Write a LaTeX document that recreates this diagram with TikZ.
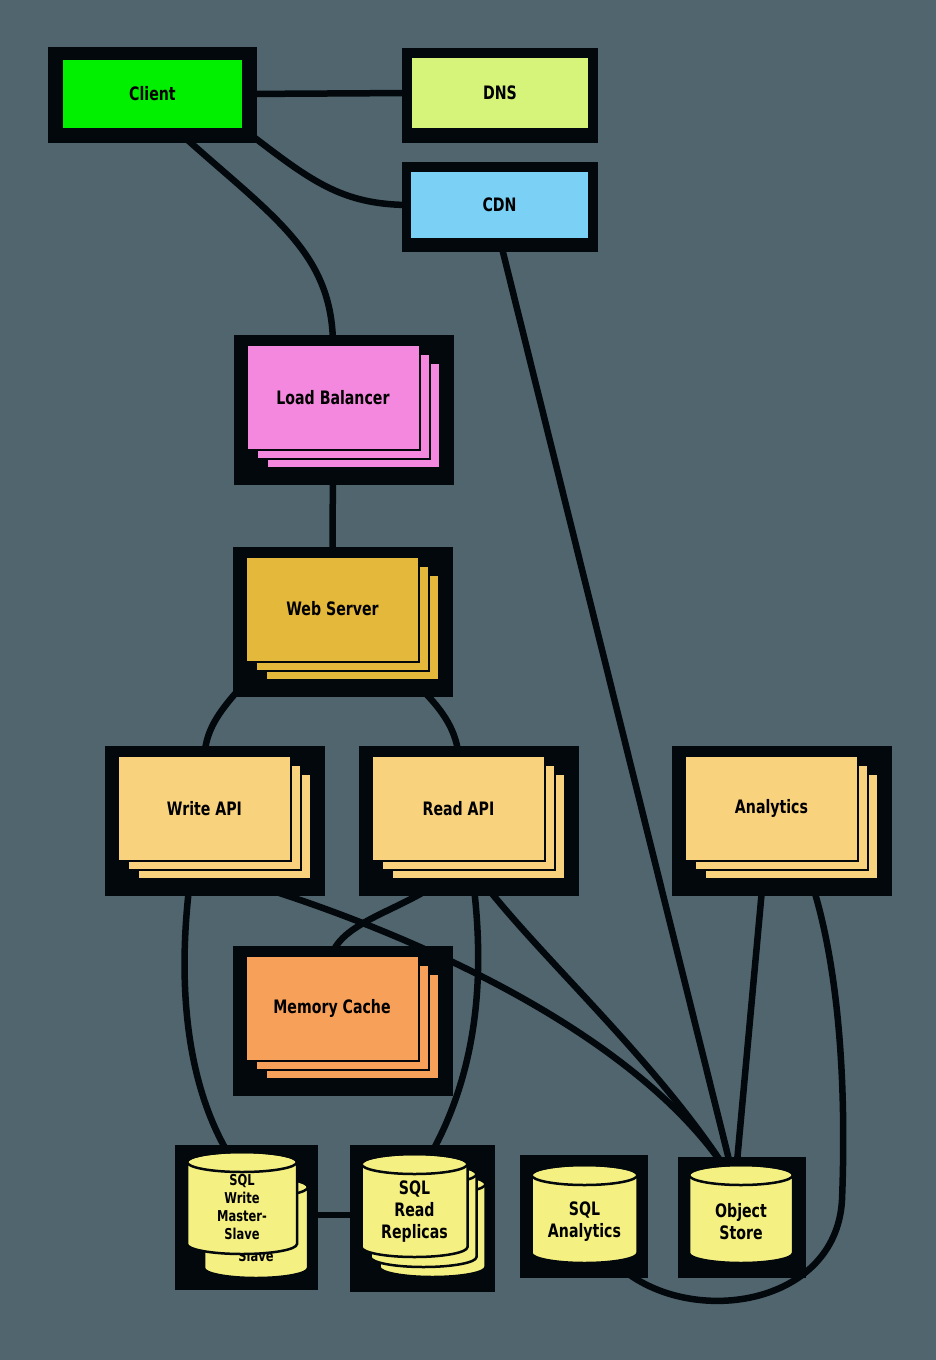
\documentclass[tikz,border=0pt]{standalone}
\usepackage{fontspec}
\newfontfamily\labelfont[FakeStretch=0.85]{DejaVu Sans Condensed Bold}

\definecolor{slate}{RGB}{80,101,110}
\definecolor{halocol}{RGB}{2,8,12}
\definecolor{clientcol}{RGB}{0,240,0}
\definecolor{dnscol}{RGB}{214,244,122}
\definecolor{cdncol}{RGB}{122,208,245}
\definecolor{lbcol}{RGB}{243,136,222}
\definecolor{webcol}{RGB}{228,184,58}
\definecolor{apicol}{RGB}{248,210,125}
\definecolor{mccol}{RGB}{247,160,90}
\definecolor{drumcol}{RGB}{245,240,130}

\pgfdeclarelayer{bg}
\pgfdeclarelayer{edges}
\pgfsetlayers{bg,edges,main}

\tikzset{
  halo/.style={fill=halocol},
  card/.style={draw=halocol, line width=2pt},
  cardfront/.style={draw=halocol, line width=2pt, minimum width=173pt,
    minimum height=105pt, inner sep=0pt, text=black,
    font=\labelfont\fontsize{18.5}{22}\selectfont},
  flat/.style={inner sep=0pt, text=black,
    font=\labelfont\fontsize{18.5}{22}\selectfont},
  drum/.style={fill=drumcol, draw=halocol, line width=2.5pt},
  drumtext/.style={align=center, inner sep=0pt, text=black,
    font=\labelfont\fontsize{18.5}{22}\selectfont},
  drumsmall/.style={drumtext, font=\labelfont\fontsize{15}{18}\selectfont},
  wire/.style={draw=halocol, line width=6.5pt, line cap=round},
}

% a stack of three cards on a black backing; #1 name, #2,#3 centre, #4 colour, #5 label
\newcommand\stackcard[5]{%
  \fill[halo] ({#2-99.5},{#3-62.5}) rectangle ({#2+120.5},{#3+87.5});
  \filldraw[card,fill=#4] ({#2-66.5},{#3-34.5}) rectangle ({#2+106.5},{#3+70.5});
  \filldraw[card,fill=#4] ({#2-76.5},{#3-43.5}) rectangle ({#2+96.5},{#3+61.5});
  \node[cardfront,fill=#4] (#1) at (#2,#3) {#5};
}

% a database drum; #1 centre x, #2 half width, #3 top, #4 bottom
\newcommand\drum[4]{%
  \filldraw[drum] ({#1-#2},{#3+10}) -- ({#1-#2},{#4-10})
    arc[start angle=180,end angle=360,x radius=#2pt,y radius=10pt]
    -- ({#1+#2},{#3+10})
    arc[start angle=0,end angle=180,x radius=#2pt,y radius=10pt] -- cycle;
  \draw[drum,fill=none] (#1,{#3+10}) ellipse[x radius=#2pt,y radius=10pt];
}

\begin{document}
\begin{tikzpicture}[x=1pt,y=-1pt]
\begin{pgfonlayer}{bg}
  \fill[slate] (0,0) rectangle (936,1360);
\end{pgfonlayer}
\useasboundingbox (0,0) rectangle (936,1360);

% top row
\fill[halo] (48,47) rectangle (257,143);
\node[flat, fill=clientcol, minimum width=179pt, minimum height=68pt] (client) at (152.5,94) {Client};
\fill[halo] (402,48) rectangle (598,143);
\node[flat, fill=dnscol, minimum width=176pt, minimum height=70pt] (dns) at (500,93) {DNS};
\fill[halo] (402,162) rectangle (598,252);
\node[flat, fill=cdncol, minimum width=177pt, minimum height=66pt] (cdn) at (499.5,205) {CDN};

% server tiers
\stackcard{lb}{333}{397.5}{lbcol}{Load Balancer}
\stackcard{web}{332.5}{609}{webcol}{Web Server}
\stackcard{wapi}{204.5}{808.5}{apicol}{Write API}
\stackcard{rapi}{458.5}{808.5}{apicol}{Read API}
\stackcard{ana}{771.5}{808.5}{apicol}{Analytics}
\stackcard{mc}{332}{1008}{mccol}{Memory Cache}

% storage
\fill[halo] (175,1145) rectangle (318,1290);
\drum{256}{52}{1177}{1278}
\node[drumsmall] (sqlwb) at (256,1256) {Slave};
\drum{242}{55}{1152}{1254}
\node[drumsmall, minimum width=110pt, minimum height=82pt] (sqlw) at (242,1207) {SQL\\Write\\Master-\\Slave};

\fill[halo] (350,1145) rectangle (495,1292);
\drum{432.5}{53}{1174}{1277}
\drum{423.5}{53}{1164}{1267}
\drum{414.5}{53}{1154}{1257}
\node[drumtext, minimum width=106pt, minimum height=80pt] (sqlr) at (414.5,1212) {SQL\\Read\\Replicas};

\fill[halo] (520,1155) rectangle (648,1278);
\drum{584.5}{53}{1165}{1263}
\node[drumtext, minimum width=106pt, minimum height=76pt] (sqla) at (584.5,1222) {SQL\\Analytics};

\fill[halo] (678,1157) rectangle (806,1278);
\drum{741}{52}{1165}{1263}
\node[drumtext, minimum width=104pt, minimum height=76pt] (obj) at (741,1222) {Object\\Store};

% connectors
\begin{pgfonlayer}{edges}
  \draw[wire] (client.east) -- (dns.west);
  \draw[wire] (client.south east) .. controls (310,180) and (340,205) .. (cdn.west);
  \draw[wire] ([xshift=22pt]client.south) .. controls (270,215) and (332,250) .. (lb.north);
  \draw[wire] (cdn.south) -- ([xshift=-6pt]obj.north);
  \draw[wire] (lb.south) -- (web.north);
  \draw[wire] ([xshift=18pt]web.south west) .. controls (230,700) and (207,720) .. (wapi.north);
  \draw[wire] ([xshift=-28pt]web.south east) .. controls (430,695) and (455,720) .. (rapi.north);
  \draw[wire] ([xshift=-12pt]wapi.south) .. controls (175,980) and (185,1090) .. ([xshift=-6pt]sqlw.north);
  \draw[wire] ([xshift=40pt,yshift=-20pt]wapi.south) .. controls (420,935) and (650,1040) .. ([xshift=-6pt]obj.north);
  \draw[wire] (rapi.south) .. controls (430,905) and (345,915) .. (mc.north);
  \draw[wire] ([xshift=10pt]rapi.south) .. controls (520,940) and (660,1060) .. ([xshift=-6pt]obj.north);
  \draw[wire] ([xshift=12pt]rapi.south) .. controls (490,990) and (472,1090) .. ([xshift=6pt]sqlr.north);
  \draw[wire] ([xshift=-7pt]ana.south) -- ([xshift=-6pt]obj.north);
  \draw[wire] ([xshift=33pt]ana.south) .. controls (842,960) and (846,1100) .. (842,1200)
     .. controls (836,1310) and (680,1330) .. ([xshift=28pt]sqla.south);
  \draw[wire] ([yshift=-8pt]sqlw.east) -- ([yshift=-3pt]sqlr.west);
\end{pgfonlayer}
\end{tikzpicture}
\end{document}
